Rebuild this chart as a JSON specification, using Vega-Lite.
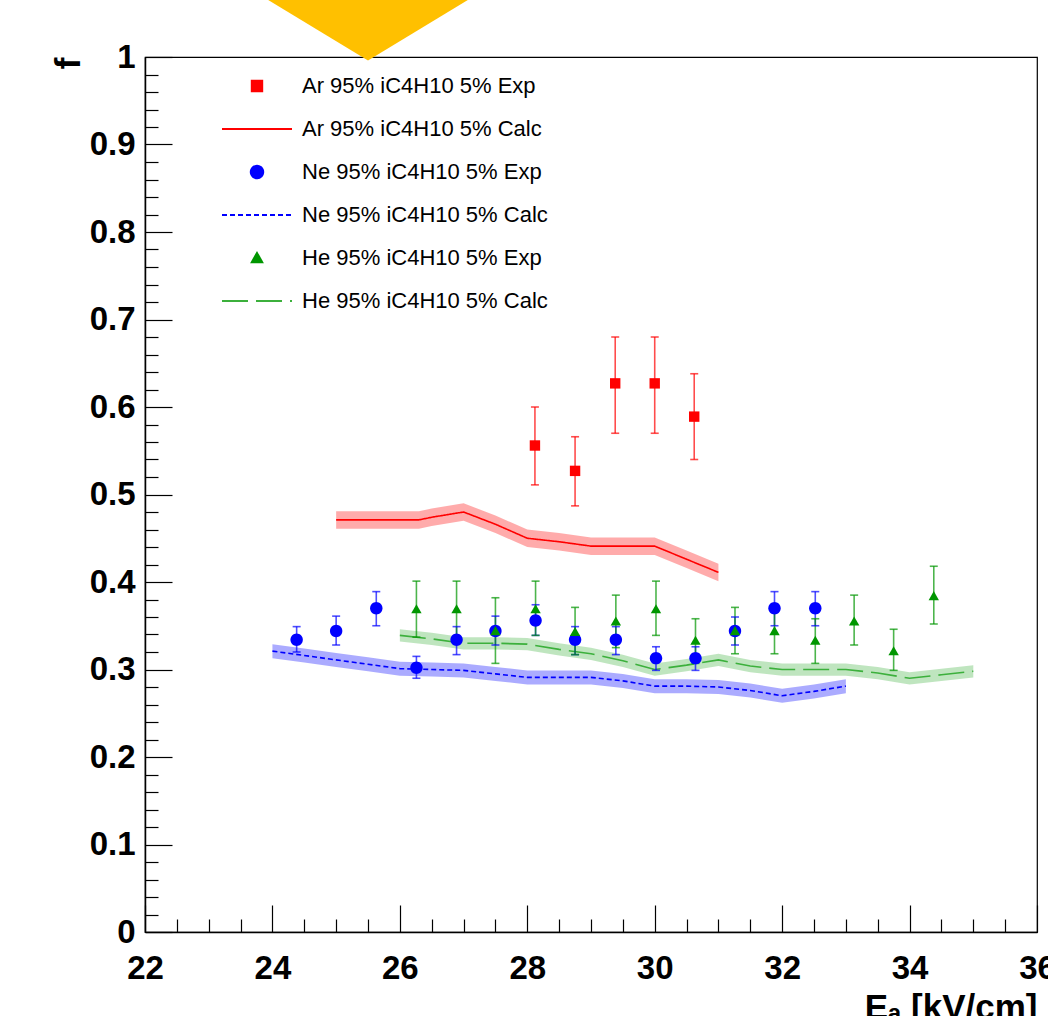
{
  "$schema": "https://vega.github.io/schema/vega-lite/v6.json",
  "width": 892,
  "height": 875,
  "autosize": {"type": "none"},
  "padding": {"left": 145, "top": 57, "right": 11, "bottom": 84},
  "background": "white",
  "config": {
    "view": {"stroke": "black", "strokeWidth": 1.2},
    "legend": {"symbolOpacity": 1},
    "axis": {
      "domainColor": "black", "tickColor": "black", "labelColor": "black", "titleColor": "black",
      "labelFont": "Liberation Sans", "titleFont": "Liberation Sans",
      "labelFontWeight": "bold", "titleFontWeight": "bold",
      "labelFontSize": 33, "titleFontSize": 35, "grid": false,
      "domainWidth": 1.5, "tickWidth": 1.2
    }
  },
  "datasets": {
    "exp": [
      {"series": "Ar 95% iC4H10 5% Exp", "E": 28.12, "f": 0.556, "lo": 0.511, "hi": 0.600},
      {"series": "Ar 95% iC4H10 5% Exp", "E": 28.75, "f": 0.527, "lo": 0.487, "hi": 0.566},
      {"series": "Ar 95% iC4H10 5% Exp", "E": 29.38, "f": 0.627, "lo": 0.570, "hi": 0.680},
      {"series": "Ar 95% iC4H10 5% Exp", "E": 30.00, "f": 0.627, "lo": 0.570, "hi": 0.680},
      {"series": "Ar 95% iC4H10 5% Exp", "E": 30.62, "f": 0.589, "lo": 0.540, "hi": 0.638},
      {"series": "Ne 95% iC4H10 5% Exp", "E": 24.38, "f": 0.334, "lo": 0.320, "hi": 0.349},
      {"series": "Ne 95% iC4H10 5% Exp", "E": 25.00, "f": 0.344, "lo": 0.328, "hi": 0.361},
      {"series": "Ne 95% iC4H10 5% Exp", "E": 25.63, "f": 0.370, "lo": 0.350, "hi": 0.389},
      {"series": "Ne 95% iC4H10 5% Exp", "E": 26.26, "f": 0.302, "lo": 0.290, "hi": 0.315},
      {"series": "Ne 95% iC4H10 5% Exp", "E": 26.89, "f": 0.334, "lo": 0.317, "hi": 0.349},
      {"series": "Ne 95% iC4H10 5% Exp", "E": 27.50, "f": 0.344, "lo": 0.328, "hi": 0.361},
      {"series": "Ne 95% iC4H10 5% Exp", "E": 28.13, "f": 0.356, "lo": 0.339, "hi": 0.374},
      {"series": "Ne 95% iC4H10 5% Exp", "E": 28.75, "f": 0.334, "lo": 0.317, "hi": 0.349},
      {"series": "Ne 95% iC4H10 5% Exp", "E": 29.39, "f": 0.334, "lo": 0.317, "hi": 0.349},
      {"series": "Ne 95% iC4H10 5% Exp", "E": 30.02, "f": 0.313, "lo": 0.299, "hi": 0.326},
      {"series": "Ne 95% iC4H10 5% Exp", "E": 30.64, "f": 0.313, "lo": 0.299, "hi": 0.326},
      {"series": "Ne 95% iC4H10 5% Exp", "E": 31.26, "f": 0.344, "lo": 0.328, "hi": 0.360},
      {"series": "Ne 95% iC4H10 5% Exp", "E": 31.88, "f": 0.370, "lo": 0.350, "hi": 0.389},
      {"series": "Ne 95% iC4H10 5% Exp", "E": 32.52, "f": 0.370, "lo": 0.350, "hi": 0.389},
      {"series": "He 95% iC4H10 5% Exp", "E": 26.26, "f": 0.369, "lo": 0.337, "hi": 0.401},
      {"series": "He 95% iC4H10 5% Exp", "E": 26.89, "f": 0.369, "lo": 0.337, "hi": 0.401},
      {"series": "He 95% iC4H10 5% Exp", "E": 27.50, "f": 0.344, "lo": 0.307, "hi": 0.382},
      {"series": "He 95% iC4H10 5% Exp", "E": 28.13, "f": 0.369, "lo": 0.339, "hi": 0.401},
      {"series": "He 95% iC4H10 5% Exp", "E": 28.75, "f": 0.343, "lo": 0.317, "hi": 0.371},
      {"series": "He 95% iC4H10 5% Exp", "E": 29.39, "f": 0.355, "lo": 0.325, "hi": 0.385},
      {"series": "He 95% iC4H10 5% Exp", "E": 30.02, "f": 0.369, "lo": 0.339, "hi": 0.401},
      {"series": "He 95% iC4H10 5% Exp", "E": 30.64, "f": 0.333, "lo": 0.307, "hi": 0.358},
      {"series": "He 95% iC4H10 5% Exp", "E": 31.26, "f": 0.344, "lo": 0.318, "hi": 0.371},
      {"series": "He 95% iC4H10 5% Exp", "E": 31.88, "f": 0.344, "lo": 0.318, "hi": 0.371},
      {"series": "He 95% iC4H10 5% Exp", "E": 32.52, "f": 0.333, "lo": 0.307, "hi": 0.358},
      {"series": "He 95% iC4H10 5% Exp", "E": 33.13, "f": 0.355, "lo": 0.328, "hi": 0.385},
      {"series": "He 95% iC4H10 5% Exp", "E": 33.75, "f": 0.321, "lo": 0.299, "hi": 0.346},
      {"series": "He 95% iC4H10 5% Exp", "E": 34.38, "f": 0.384, "lo": 0.352, "hi": 0.418}
    ],
    "calc": [
      {"series": "Ar 95% iC4H10 5% Calc", "E": 25.0, "f": 0.471, "lo": 0.461, "hi": 0.481},
      {"series": "Ar 95% iC4H10 5% Calc", "E": 25.5, "f": 0.471, "lo": 0.461, "hi": 0.481},
      {"series": "Ar 95% iC4H10 5% Calc", "E": 26.0, "f": 0.471, "lo": 0.461, "hi": 0.481},
      {"series": "Ar 95% iC4H10 5% Calc", "E": 26.3, "f": 0.471, "lo": 0.461, "hi": 0.481},
      {"series": "Ar 95% iC4H10 5% Calc", "E": 26.5, "f": 0.474, "lo": 0.464, "hi": 0.484},
      {"series": "Ar 95% iC4H10 5% Calc", "E": 27.0, "f": 0.480, "lo": 0.470, "hi": 0.490},
      {"series": "Ar 95% iC4H10 5% Calc", "E": 27.5, "f": 0.466, "lo": 0.456, "hi": 0.476},
      {"series": "Ar 95% iC4H10 5% Calc", "E": 28.0, "f": 0.450, "lo": 0.440, "hi": 0.460},
      {"series": "Ar 95% iC4H10 5% Calc", "E": 28.5, "f": 0.446, "lo": 0.436, "hi": 0.456},
      {"series": "Ar 95% iC4H10 5% Calc", "E": 29.0, "f": 0.441, "lo": 0.431, "hi": 0.451},
      {"series": "Ar 95% iC4H10 5% Calc", "E": 29.5, "f": 0.441, "lo": 0.431, "hi": 0.451},
      {"series": "Ar 95% iC4H10 5% Calc", "E": 30.0, "f": 0.441, "lo": 0.431, "hi": 0.451},
      {"series": "Ar 95% iC4H10 5% Calc", "E": 30.5, "f": 0.426, "lo": 0.416, "hi": 0.436},
      {"series": "Ar 95% iC4H10 5% Calc", "E": 31.0, "f": 0.411, "lo": 0.401, "hi": 0.421},
      {"series": "Ne 95% iC4H10 5% Calc", "E": 24.0, "f": 0.321, "lo": 0.313, "hi": 0.329},
      {"series": "Ne 95% iC4H10 5% Calc", "E": 24.5, "f": 0.316, "lo": 0.308, "hi": 0.324},
      {"series": "Ne 95% iC4H10 5% Calc", "E": 25.0, "f": 0.311, "lo": 0.303, "hi": 0.319},
      {"series": "Ne 95% iC4H10 5% Calc", "E": 25.5, "f": 0.306, "lo": 0.298, "hi": 0.314},
      {"series": "Ne 95% iC4H10 5% Calc", "E": 26.0, "f": 0.301, "lo": 0.293, "hi": 0.309},
      {"series": "Ne 95% iC4H10 5% Calc", "E": 26.5, "f": 0.300, "lo": 0.292, "hi": 0.308},
      {"series": "Ne 95% iC4H10 5% Calc", "E": 27.0, "f": 0.299, "lo": 0.291, "hi": 0.307},
      {"series": "Ne 95% iC4H10 5% Calc", "E": 27.5, "f": 0.295, "lo": 0.287, "hi": 0.303},
      {"series": "Ne 95% iC4H10 5% Calc", "E": 28.0, "f": 0.291, "lo": 0.283, "hi": 0.299},
      {"series": "Ne 95% iC4H10 5% Calc", "E": 28.5, "f": 0.291, "lo": 0.283, "hi": 0.299},
      {"series": "Ne 95% iC4H10 5% Calc", "E": 29.0, "f": 0.291, "lo": 0.283, "hi": 0.299},
      {"series": "Ne 95% iC4H10 5% Calc", "E": 29.5, "f": 0.287, "lo": 0.279, "hi": 0.295},
      {"series": "Ne 95% iC4H10 5% Calc", "E": 30.0, "f": 0.281, "lo": 0.273, "hi": 0.289},
      {"series": "Ne 95% iC4H10 5% Calc", "E": 30.5, "f": 0.281, "lo": 0.273, "hi": 0.289},
      {"series": "Ne 95% iC4H10 5% Calc", "E": 31.0, "f": 0.280, "lo": 0.272, "hi": 0.288},
      {"series": "Ne 95% iC4H10 5% Calc", "E": 31.5, "f": 0.276, "lo": 0.268, "hi": 0.284},
      {"series": "Ne 95% iC4H10 5% Calc", "E": 32.0, "f": 0.270, "lo": 0.262, "hi": 0.278},
      {"series": "Ne 95% iC4H10 5% Calc", "E": 32.5, "f": 0.275, "lo": 0.267, "hi": 0.283},
      {"series": "Ne 95% iC4H10 5% Calc", "E": 33.0, "f": 0.281, "lo": 0.273, "hi": 0.289},
      {"series": "He 95% iC4H10 5% Calc", "E": 26.0, "f": 0.339, "lo": 0.332, "hi": 0.346},
      {"series": "He 95% iC4H10 5% Calc", "E": 26.5, "f": 0.335, "lo": 0.328, "hi": 0.342},
      {"series": "He 95% iC4H10 5% Calc", "E": 27.0, "f": 0.330, "lo": 0.323, "hi": 0.337},
      {"series": "He 95% iC4H10 5% Calc", "E": 27.5, "f": 0.330, "lo": 0.323, "hi": 0.337},
      {"series": "He 95% iC4H10 5% Calc", "E": 28.0, "f": 0.329, "lo": 0.322, "hi": 0.336},
      {"series": "He 95% iC4H10 5% Calc", "E": 28.5, "f": 0.323, "lo": 0.316, "hi": 0.330},
      {"series": "He 95% iC4H10 5% Calc", "E": 29.0, "f": 0.318, "lo": 0.311, "hi": 0.325},
      {"series": "He 95% iC4H10 5% Calc", "E": 29.5, "f": 0.310, "lo": 0.303, "hi": 0.317},
      {"series": "He 95% iC4H10 5% Calc", "E": 30.0, "f": 0.300, "lo": 0.293, "hi": 0.307},
      {"series": "He 95% iC4H10 5% Calc", "E": 30.5, "f": 0.305, "lo": 0.298, "hi": 0.312},
      {"series": "He 95% iC4H10 5% Calc", "E": 31.0, "f": 0.311, "lo": 0.304, "hi": 0.318},
      {"series": "He 95% iC4H10 5% Calc", "E": 31.5, "f": 0.304, "lo": 0.297, "hi": 0.311},
      {"series": "He 95% iC4H10 5% Calc", "E": 32.0, "f": 0.300, "lo": 0.293, "hi": 0.307},
      {"series": "He 95% iC4H10 5% Calc", "E": 32.5, "f": 0.300, "lo": 0.293, "hi": 0.307},
      {"series": "He 95% iC4H10 5% Calc", "E": 33.0, "f": 0.300, "lo": 0.293, "hi": 0.307},
      {"series": "He 95% iC4H10 5% Calc", "E": 33.5, "f": 0.296, "lo": 0.289, "hi": 0.303},
      {"series": "He 95% iC4H10 5% Calc", "E": 34.0, "f": 0.290, "lo": 0.283, "hi": 0.297},
      {"series": "He 95% iC4H10 5% Calc", "E": 34.5, "f": 0.294, "lo": 0.287, "hi": 0.301},
      {"series": "He 95% iC4H10 5% Calc", "E": 35.0, "f": 0.298, "lo": 0.291, "hi": 0.305}
    ]
  },
  "resolve": {"axis": {"x": "independent", "y": "independent"}},
  "layer": [
    {
      "data": {"name": "calc"},
      "mark": {"type": "area", "fillOpacity": 0.33},
      "encoding": {
        "x": {"field": "E", "type": "quantitative", "scale": {"domain": [22, 36], "nice": false, "zero": false},
              "axis": {"orient": "bottom", "values": [22.5,23,23.5,24.5,25,25.5,26.5,27,27.5,28.5,29,29.5,30.5,31,31.5,32.5,33,33.5,34.5,35,35.5],
                       "tickSize": -13, "labels": false, "domain": false, "title": null}},
        "y": {"field": "lo", "type": "quantitative", "scale": {"domain": [0, 1], "nice": false, "zero": false},
              "axis": {"orient": "left", "values": [0.02,0.04,0.06,0.08,0.12,0.14,0.16,0.18,0.22,0.24,0.26,0.28,0.32,0.34,0.36,0.38,0.42,0.44,0.46,0.48,0.52,0.54,0.56,0.58,0.62,0.64,0.66,0.68,0.72,0.74,0.76,0.78,0.82,0.84,0.86,0.88,0.92,0.94,0.96,0.98],
                       "tickSize": -13, "labels": false, "domain": false, "title": null}},
        "y2": {"field": "hi"},
        "detail": {"field": "series"},
        "color": {"field": "series", "type": "nominal",
          "scale": {"domain": ["Ar 95% iC4H10 5% Exp", "Ar 95% iC4H10 5% Calc", "Ne 95% iC4H10 5% Exp", "Ne 95% iC4H10 5% Calc", "He 95% iC4H10 5% Exp", "He 95% iC4H10 5% Calc"],
                    "range": ["#ff0000", "#ff0000", "#0000ff", "#0000ff", "#009600", "#3cb03c"]},
          "legend": {
            "orient": "none", "legendX": 77, "legendY": 18, "title": null, "padding": 0,
            "labelFont": "Liberation Sans", "labelFontSize": 22, "labelColor": "black", "labelFontWeight": "normal", "labelLimit": 0,
            "symbolSize": 400, "symbolOffset": 24, "labelOffset": 34, "rowPadding": 21, "symbolStrokeWidth": 2, "symbolOpacity": 1
          }
        }
      }
    },
    {
      "data": {"name": "calc"},
      "mark": {"type": "line", "strokeWidth": 1.6},
      "encoding": {
        "x": {"field": "E", "type": "quantitative", "scale": {"domain": [22, 36], "nice": false, "zero": false}, "axis": null},
        "y": {"field": "f", "type": "quantitative", "scale": {"domain": [0, 1], "nice": false, "zero": false}, "axis": null},
        "color": {"field": "series", "type": "nominal",
          "scale": {"domain": ["Ar 95% iC4H10 5% Exp", "Ar 95% iC4H10 5% Calc", "Ne 95% iC4H10 5% Exp", "Ne 95% iC4H10 5% Calc", "He 95% iC4H10 5% Exp", "He 95% iC4H10 5% Calc"],
                    "range": ["#ff0000", "#ff0000", "#0000ff", "#0000ff", "#009600", "#3cb03c"]}},
        "strokeDash": {"field": "series", "type": "nominal",
          "scale": {"domain": ["Ar 95% iC4H10 5% Exp", "Ar 95% iC4H10 5% Calc", "Ne 95% iC4H10 5% Exp", "Ne 95% iC4H10 5% Calc", "He 95% iC4H10 5% Exp", "He 95% iC4H10 5% Calc"],
                    "range": [[1, 0], [1, 0], [1, 0], [5, 3], [1, 0], [26, 8]]}}
      }
    },
    {
      "data": {"name": "exp"},
      "mark": {"type": "rule", "strokeWidth": 1.6, "strokeOpacity": 0.7},
      "encoding": {
        "x": {"field": "E", "type": "quantitative", "scale": {"domain": [22, 36], "nice": false, "zero": false}, "axis": null},
        "y": {"field": "lo", "type": "quantitative", "scale": {"domain": [0, 1], "nice": false, "zero": false}, "axis": null},
        "y2": {"field": "hi"},
        "color": {"field": "series", "type": "nominal",
          "scale": {"domain": ["Ar 95% iC4H10 5% Exp", "Ar 95% iC4H10 5% Calc", "Ne 95% iC4H10 5% Exp", "Ne 95% iC4H10 5% Calc", "He 95% iC4H10 5% Exp", "He 95% iC4H10 5% Calc"],
                    "range": ["#ff0000", "#ff0000", "#0000ff", "#0000ff", "#009600", "#3cb03c"]}}
      }
    },
    {
      "data": {"name": "exp"},
      "mark": {"type": "tick", "orient": "horizontal", "size": 8, "thickness": 1.6, "fillOpacity": 0.7},
      "encoding": {
        "x": {"field": "E", "type": "quantitative", "scale": {"domain": [22, 36], "nice": false, "zero": false}, "axis": null},
        "y": {"field": "hi", "type": "quantitative", "scale": {"domain": [0, 1], "nice": false, "zero": false}, "axis": null},
        "color": {"field": "series", "type": "nominal",
          "scale": {"domain": ["Ar 95% iC4H10 5% Exp", "Ar 95% iC4H10 5% Calc", "Ne 95% iC4H10 5% Exp", "Ne 95% iC4H10 5% Calc", "He 95% iC4H10 5% Exp", "He 95% iC4H10 5% Calc"],
                    "range": ["#ff0000", "#ff0000", "#0000ff", "#0000ff", "#009600", "#3cb03c"]}}
      }
    },
    {
      "data": {"name": "exp"},
      "mark": {"type": "tick", "orient": "horizontal", "size": 8, "thickness": 1.6, "fillOpacity": 0.7},
      "encoding": {
        "x": {"field": "E", "type": "quantitative", "scale": {"domain": [22, 36], "nice": false, "zero": false}, "axis": null},
        "y": {"field": "lo", "type": "quantitative", "scale": {"domain": [0, 1], "nice": false, "zero": false}, "axis": null},
        "color": {"field": "series", "type": "nominal",
          "scale": {"domain": ["Ar 95% iC4H10 5% Exp", "Ar 95% iC4H10 5% Calc", "Ne 95% iC4H10 5% Exp", "Ne 95% iC4H10 5% Calc", "He 95% iC4H10 5% Exp", "He 95% iC4H10 5% Calc"],
                    "range": ["#ff0000", "#ff0000", "#0000ff", "#0000ff", "#009600", "#3cb03c"]}}
      }
    },
    {
      "data": {"name": "exp"},
      "mark": {"type": "point", "filled": true, "opacity": 1, "size": 400},
      "encoding": {
        "x": {"field": "E", "type": "quantitative", "scale": {"domain": [22, 36], "nice": false, "zero": false},
              "axis": {"orient": "bottom", "values": [22, 24, 26, 28, 30, 32, 34, 36], "tickSize": -27, "labelPadding": 47,
                       "format": "~g", "labelFlush": false, "labelOverlap": false, "labelBound": false,
                       "title": "Eₐ [kV/cm]", "titleAnchor": "end", "titleAlign": "right", "titleBaseline": "alphabetic", "titleX": 892, "titleY": 86}},
        "y": {"field": "f", "type": "quantitative", "scale": {"domain": [0, 1], "nice": false, "zero": false},
              "axis": {"orient": "left", "values": [0, 0.1, 0.2, 0.3, 0.4, 0.5, 0.6, 0.7, 0.8, 0.9, 1], "tickSize": -27, "labelPadding": 37,
                       "format": "~g", "labelFlush": false, "labelOverlap": false, "labelBound": false,
                       "title": "f", "titleAngle": -90, "titleAnchor": "end", "titleAlign": "right", "titleBaseline": "alphabetic", "titleX": -66, "titleY": 0}},
        "color": {"field": "series", "type": "nominal",
          "scale": {"domain": ["Ar 95% iC4H10 5% Exp", "Ar 95% iC4H10 5% Calc", "Ne 95% iC4H10 5% Exp", "Ne 95% iC4H10 5% Calc", "He 95% iC4H10 5% Exp", "He 95% iC4H10 5% Calc"],
                    "range": ["#ff0000", "#ff0000", "#0000ff", "#0000ff", "#009600", "#3cb03c"]}},
        "shape": {"field": "series", "type": "nominal",
          "scale": {"domain": ["Ar 95% iC4H10 5% Exp", "Ar 95% iC4H10 5% Calc", "Ne 95% iC4H10 5% Exp", "Ne 95% iC4H10 5% Calc", "He 95% iC4H10 5% Exp", "He 95% iC4H10 5% Calc"],
                    "range": ["M-0.52,-0.52H0.52V0.52H-0.52Z", "M-3.5,0H3.5", "M-0.62,0A0.62,0.62,0,1,0,0.62,0A0.62,0.62,0,1,0,-0.62,0Z", "M-3.5,0H3.5", "M0,-0.5L0.52,0.42L-0.52,0.42Z", "M-3.5,0H3.5"]}}
      }
    },
    {
      "data": {"values": [{}]},
      "mark": {"type": "point", "shape": "M-3.3,-2L3.3,-2L0,0Z", "size": 14738, "filled": true, "color": "#FFC000", "opacity": 1, "strokeWidth": 0},
      "encoding": {
        "x": {"datum": 25.5, "type": "quantitative", "scale": {"domain": [22, 36], "nice": false, "zero": false}, "axis": null},
        "y": {"datum": 0.996, "type": "quantitative", "scale": {"domain": [0, 1], "nice": false, "zero": false}, "axis": null}
      }
    }
  ]
}
